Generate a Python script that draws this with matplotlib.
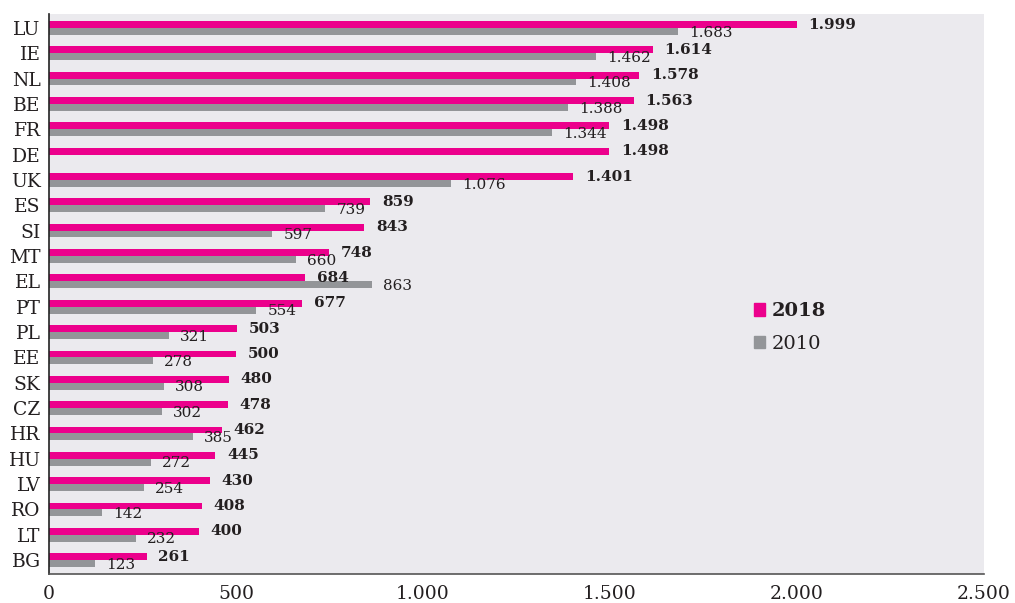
import numpy as np
import matplotlib
matplotlib.use('Agg')
import matplotlib.pyplot as plt
from matplotlib.patches import Patch

# Data (top to bottom)
countries = ['LU', 'IE', 'NL', 'BE', 'FR', 'DE', 'UK', 'ES', 'SI', 'MT', 'EL',
             'PT', 'PL', 'EE', 'SK', 'CZ', 'HR', 'HU', 'LV', 'RO', 'LT', 'BG']
values_2018 = [1999, 1614, 1578, 1563, 1498, 1498, 1401, 859, 843, 748, 684,
               677, 503, 500, 480, 478, 462, 445, 430, 408, 400, 261]
values_2010 = [1683, 1462, 1408, 1388, 1344, None, 1076, 739, 597, 660, 863,
               554, 321, 278, 308, 302, 385, 272, 254, 142, 232, 123]
x_ticks = [0, 500, 1000, 1500, 2000, 2500]

PINK = '#ec008c'
GREY = '#939598'
BG = '#ebeaee'
TEXT = '#231f20'


def fmt(v):
    return f"{v:,}".replace(',', '.')


plt.rcParams['font.family'] = ['DejaVu Serif']

fig = plt.figure(figsize=(10.15, 6.03), dpi=100)
ax = fig.add_axes([49 / 1015, 1 - 574 / 603, 935 / 1015, 560 / 603])
ax.set_facecolor(BG)

n = len(countries)
pos = np.arange(n)[::-1]
h = 0.27

ax.barh(pos + h / 2, values_2018, height=h, color=PINK, zorder=2)
for p, v in zip(pos, values_2018):
    ax.annotate(fmt(v), (v, p + h / 2), xytext=(8.5, 0), textcoords='offset points',
                ha='left', va='center', fontsize=11, fontweight='bold', color=TEXT)

for p, v in zip(pos, values_2010):
    if v is None:
        continue
    ax.barh(p - h / 2, v, height=h, color=GREY, zorder=2)
    ax.annotate(fmt(v), (v, p - h / 2 - 0.05), xytext=(8, 0), textcoords='offset points',
                ha='left', va='center', fontsize=11, color=TEXT)

ax.set_xlim(0, 2500)
ax.set_ylim(-0.55, n - 0.45)
ax.set_xticks(x_ticks)
ax.set_xticklabels([fmt(t) for t in x_ticks], fontsize=13.5, color=TEXT)
ax.set_yticks(pos)
ax.set_yticklabels(countries, fontsize=13.5, color=TEXT)
ax.tick_params(axis='both', length=0)
ax.tick_params(axis='x', pad=8)
ax.tick_params(axis='y', pad=6)

for side in ['top', 'right']:
    ax.spines[side].set_visible(False)
ax.spines['left'].set_color('#222222')
ax.spines['bottom'].set_color('#555555')
ax.spines['left'].set_linewidth(1.2)
ax.spines['bottom'].set_linewidth(1.2)

handles = [Patch(color=PINK, label='2018'), Patch(color=GREY, label='2010')]
leg = ax.legend(handles=handles, loc='center left', bbox_to_anchor=(0.735, 0.44),
                frameon=False, fontsize=14, handlelength=0.6, handleheight=0.6,
                handletextpad=0.3, labelspacing=0.75)
leg.get_texts()[0].set_fontweight('bold')
for t in leg.get_texts():
    t.set_color(TEXT)

fig.savefig('out.png', dpi=100, facecolor='white')
